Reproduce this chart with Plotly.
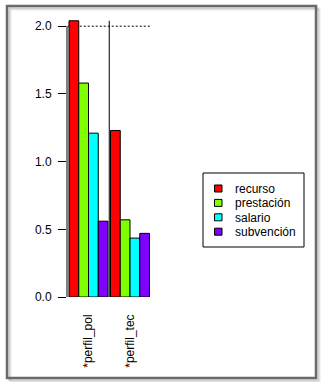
import plotly.graph_objects as go

categories = ["*perfil_pol", "*perfil_tec"]
series_names = ["recurso", "prestación", "salario", "subvención"]
recurso = [2.04, 1.23]
prestacion = [1.58, 0.57]
salario = [1.21, 0.435]
subvencion = [0.56, 0.47]
colors = ["#FF0000", "#80FF00", "#00FFFF", "#8000FF"]
y_ticks = [0.0, 0.5, 1.0, 1.5, 2.0]
ref_line = 2.0

W, H = 324, 382
ML, MR, MT, MB = 67, 8, 10, 85
PW, PH = W - ML - MR, H - MT - MB

def px(x):
    return (x - ML) / PW

def py(y):
    return (H - MB - y) / PH

values = [recurso, prestacion, salario, subvencion]
fig = go.Figure()
for name, vals, col in zip(series_names, values, colors):
    fig.add_trace(go.Bar(x=list(range(len(categories))), y=vals, name=name, showlegend=False,
                         hoverinfo="skip",
                         marker=dict(color=col, line=dict(color="black", width=1))))

FONT_FAMILY = "Liberation Sans, Arial, sans-serif"
font = dict(family=FONT_FAMILY, size=12, color="black")

shapes = []
annotations = []
# dotted reference line
shapes.append(dict(type="line", xref="x", yref="y", x0=-0.5, x1=1.5, y0=ref_line, y1=ref_line,
                   line=dict(color="black", width=1, dash="2px,2px"), layer="below"))
# group separator
shapes.append(dict(type="line", xref="x", yref="y", x0=0.5, x1=0.5, y0=0, y1=max(recurso),
                   line=dict(color="black", width=1)))
# y axis line
shapes.append(dict(type="line", xref="paper", yref="y", x0=0, x1=0, y0=min(y_ticks), y1=max(y_ticks),
                   line=dict(color="black", width=1)))
# frame shadow
for off, a in [(4, 0.06), (3, 0.10), (2, 0.16)]:
    shapes.append(dict(type="rect", xref="paper", yref="paper",
                       x0=px(7 + off), x1=px(316 + off), y0=py(378 + off), y1=py(6 + off),
                       line=dict(color=f"rgba(0,0,0,{a})", width=1.5), layer="below"))
# frame
shapes.append(dict(type="rect", xref="paper", yref="paper",
                   x0=px(7), x1=px(316), y0=py(378), y1=py(6),
                   line=dict(color="#6a6a6a", width=2.5)))

# legend (drawn manually)
LX0, LX1, LY0, LY1 = 203, 304, 173, 247
shapes.append(dict(type="rect", xref="paper", yref="paper",
                   x0=px(LX0), x1=px(LX1), y0=py(LY1), y1=py(LY0),
                   line=dict(color="black", width=1), fillcolor="white"))
row0, step = 188.5, 14.4
for i, (name, col) in enumerate(zip(series_names, colors)):
    cy = row0 + i * step
    shapes.append(dict(type="rect", xref="paper", yref="paper",
                       x0=px(214.5), x1=px(222), y0=py(cy + 3.5), y1=py(cy - 3.5),
                       line=dict(color="black", width=1), fillcolor=col))
    annotations.append(dict(xref="paper", yref="paper", x=px(233), y=py(cy + 0.5),
                            xanchor="left", yanchor="middle", text=name, showarrow=False,
                            font=font))

fig.update_layout(
    width=W, height=H,
    margin=dict(l=ML, r=MR, t=MT, b=MB),
    paper_bgcolor="white", plot_bgcolor="rgba(0,0,0,0)",
    barmode="group", bargap=0.06, bargroupgap=0,
    font=font,
    showlegend=False,
    hovermode=False,
    shapes=shapes,
    annotations=annotations,
    xaxis=dict(range=[-(88.5 - ML) / 41.5, -(88.5 - ML) / 41.5 + PW / 41.5],
               tickmode="array", tickvals=list(range(len(categories))), ticktext=categories,
               tickangle=-90, ticks="", showline=False, showgrid=False, zeroline=False,
               ticklabelstandoff=14, fixedrange=True),
    yaxis=dict(range=[0, PH / 135.4], tickmode="array", tickvals=y_ticks,
               ticktext=[f"{v:.1f}" for v in y_ticks],
               ticks="outside", ticklen=8, tickcolor="black", tickwidth=1,
               showline=False, showgrid=False, zeroline=False, ticklabelstandoff=4,
               fixedrange=True),
)

fig.write_html("out.html", config={"displayModeBar": False, "staticPlot": True},
               post_script="document.body.style.margin='0';document.body.style.overflow='hidden';")
